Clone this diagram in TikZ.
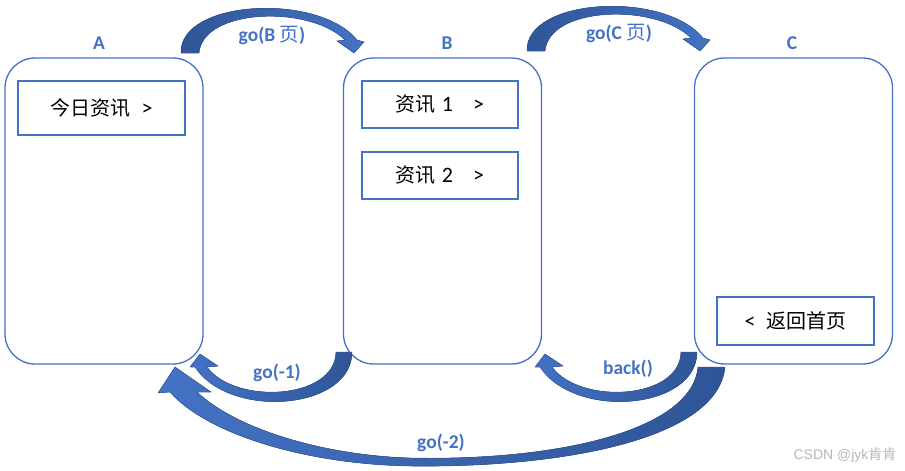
\documentclass[tikz,border=0pt]{standalone}
\usepackage{fontspec}
\setmainfont{Carlito}
\newfontfamily\cjk{Noto Sans CJK SC}
\newfontfamily\wm{Liberation Sans}
\definecolor{obl}{HTML}{4472C4}
\definecolor{odk}{HTML}{2F5597}
\definecolor{wmgray}{HTML}{B8B8B8}
\newcommand{\lat}[1]{{\rmfamily\fontsize{22}{24}\selectfont #1}}
\begin{document}
\begin{tikzpicture}[x=1pt,y=-1pt,
  page/.style={draw=obl, line width=1.3pt, rounded corners=30pt, inner sep=0pt,
               minimum width=198pt, minimum height=306pt},
  item/.style={draw=obl, line width=2pt, inner sep=0pt,
               font=\cjk\fontsize{20}{22}\selectfont, text=black},
  lbl/.style={text=obl, font=\fontsize{19.5}{21}\selectfont\bfseries},
  blk/.style={draw=odk, line width=0.4pt},
]
\fill[white] (0,0) rectangle (905,471);
\useasboundingbox (0,0) rectangle (905,471);

% pages
\node[page] (A) at (104,211) {};
\node[page] (B) at (442.5,211) {};
\node[page] (C) at (793.5,211) {};
\node[lbl] (la) at (99,43) {A};
\node[lbl] (lb) at (447,43) {B};
\node[lbl] (lc) at (792,43) {C};

% items
\node[item, minimum width=167pt, minimum height=54pt] (a1) at (101.5,108) {今日资讯\hspace{11pt}\lat{>}};
\node[item, minimum width=156pt, minimum height=47pt] (b1) at (440,104.5) {资讯\hspace{6pt}\lat{1}\hspace{20pt}\lat{>}};
\node[item, minimum width=156pt, minimum height=47pt] (b2) at (440,175) {资讯\hspace{6pt}\lat{2}\hspace{20pt}\lat{>}};
\node[item, minimum width=157pt, minimum height=48pt] (c1) at (795.5,321) {\lat{<}\hspace{11pt}返回首页};

% top arrows
\filldraw[blk, left color=odk, right color=obl]
  (181,53) .. controls (179,0) and (318,-8) .. (357,40) -- (364,42) -- (354,53)
  -- (337,41) -- (345,40) .. controls (310,5) and (203,8) .. (199,53) -- cycle;
\begin{scope}[shift={(346,-2)}]
\filldraw[blk, left color=odk, right color=obl]
  (181,53) .. controls (179,0) and (318,-8) .. (357,40) -- (364,42) -- (354,53)
  -- (337,41) -- (345,40) .. controls (310,5) and (203,8) .. (199,53) -- cycle;
\end{scope}

% go(-1)
\filldraw[blk, left color=obl, right color=odk]
  (352,352) .. controls (352,410) and (230,420) .. (195,367) -- (190,367) -- (200,354)
  -- (218,366) -- (207,367) .. controls (235,405) and (335,400) .. (336,352) -- cycle;
% back()
\begin{scope}[shift={(345,0)}]
\filldraw[blk, left color=obl, right color=odk]
  (352,352) .. controls (352,410) and (230,420) .. (195,367) -- (190,367) -- (200,354)
  -- (218,366) -- (207,367) .. controls (235,405) and (335,400) .. (336,352) -- cycle;
\end{scope}
% go(-2)
\filldraw[blk, left color=obl, right color=odk]
  (725,367) .. controls (718,440) and (560,468) .. (410,466)
  .. controls (300,464) and (205,432) .. (170,392) -- (158,393) -- (175,367)
  -- (211,392) -- (197,392) .. controls (235,428) and (320,455) .. (410,458)
  .. controls (560,461) and (692,430) .. (698,367) -- cycle;

% labels
\node[lbl] (t1) at (272,35) {go(B {\cjk\mdseries 页})};
\node[lbl] (t2) at (619,33) {go(C {\cjk\mdseries 页})};
\node[lbl] (t3) at (277,373) {go(-1)};
\node[lbl] (t4) at (628,369) {back()};
\node[lbl] (t5) at (441,443) {go(-2)};

% watermark
\node[text=wmgray, font=\wm\fontsize{14}{16}\selectfont, anchor=east] (wm) at (900,455) {CSDN @jyk{\cjk 肯肯}};
\end{tikzpicture}
\end{document}
